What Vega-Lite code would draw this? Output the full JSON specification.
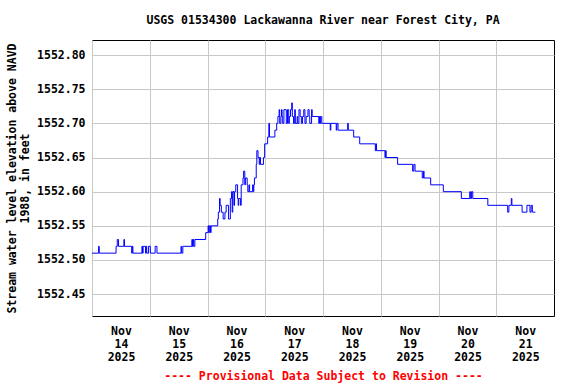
{
  "$schema": "https://vega.github.io/schema/vega-lite/v6.json",
  "width": 462,
  "height": 276,
  "autosize": {"type": "none"},
  "padding": {"left": 92, "top": 40, "right": 22, "bottom": 68},
  "background": "white",
  "title": {
    "text": "USGS 01534300 Lackawanna River near Forest City, PA",
    "font": "DejaVu Sans Mono",
    "fontSize": 11.5,
    "fontWeight": "bold",
    "color": "black",
    "anchor": "middle",
    "offset": 14
  },
  "config": {
    "view": {"stroke": "black", "strokeWidth": 1},
    "axis": {
      "labelFont": "DejaVu Sans Mono",
      "labelFontSize": 11.5,
      "labelFontWeight": "bold",
      "labelColor": "black",
      "titleFont": "DejaVu Sans Mono",
      "titleFontSize": 11.5,
      "titleFontWeight": "bold",
      "titleColor": "black",
      "gridColor": "#c8c8c8",
      "gridWidth": 1,
      "gridOpacity": 1,
      "domain": false,
      "ticks": false
    }
  },
  "data": {
    "values": [
      {"t": "2025-11-14T00:00", "v": 1552.51},
      {"t": "2025-11-14T02:45", "v": 1552.52},
      {"t": "2025-11-14T03:00", "v": 1552.51},
      {"t": "2025-11-14T10:00", "v": 1552.52},
      {"t": "2025-11-14T10:30", "v": 1552.53},
      {"t": "2025-11-14T11:00", "v": 1552.52},
      {"t": "2025-11-14T13:15", "v": 1552.53},
      {"t": "2025-11-14T13:30", "v": 1552.52},
      {"t": "2025-11-14T16:30", "v": 1552.51},
      {"t": "2025-11-14T16:45", "v": 1552.52},
      {"t": "2025-11-14T17:00", "v": 1552.51},
      {"t": "2025-11-14T20:45", "v": 1552.52},
      {"t": "2025-11-14T21:00", "v": 1552.51},
      {"t": "2025-11-14T21:15", "v": 1552.52},
      {"t": "2025-11-14T22:15", "v": 1552.51},
      {"t": "2025-11-14T22:30", "v": 1552.52},
      {"t": "2025-11-14T22:45", "v": 1552.51},
      {"t": "2025-11-14T23:30", "v": 1552.52},
      {"t": "2025-11-15T00:15", "v": 1552.51},
      {"t": "2025-11-15T02:15", "v": 1552.52},
      {"t": "2025-11-15T03:00", "v": 1552.51},
      {"t": "2025-11-15T13:00", "v": 1552.52},
      {"t": "2025-11-15T13:15", "v": 1552.51},
      {"t": "2025-11-15T13:45", "v": 1552.52},
      {"t": "2025-11-15T17:30", "v": 1552.53},
      {"t": "2025-11-15T17:45", "v": 1552.52},
      {"t": "2025-11-15T18:00", "v": 1552.53},
      {"t": "2025-11-15T18:15", "v": 1552.52},
      {"t": "2025-11-15T18:45", "v": 1552.53},
      {"t": "2025-11-15T23:15", "v": 1552.54},
      {"t": "2025-11-16T00:15", "v": 1552.55},
      {"t": "2025-11-16T00:30", "v": 1552.54},
      {"t": "2025-11-16T00:45", "v": 1552.55},
      {"t": "2025-11-16T01:15", "v": 1552.54},
      {"t": "2025-11-16T01:30", "v": 1552.55},
      {"t": "2025-11-16T04:15", "v": 1552.56},
      {"t": "2025-11-16T04:30", "v": 1552.57},
      {"t": "2025-11-16T05:00", "v": 1552.59},
      {"t": "2025-11-16T05:15", "v": 1552.58},
      {"t": "2025-11-16T05:45", "v": 1552.57},
      {"t": "2025-11-16T06:30", "v": 1552.56},
      {"t": "2025-11-16T07:15", "v": 1552.57},
      {"t": "2025-11-16T07:45", "v": 1552.58},
      {"t": "2025-11-16T08:45", "v": 1552.56},
      {"t": "2025-11-16T09:30", "v": 1552.59},
      {"t": "2025-11-16T10:00", "v": 1552.60},
      {"t": "2025-11-16T10:15", "v": 1552.57},
      {"t": "2025-11-16T10:30", "v": 1552.60},
      {"t": "2025-11-16T11:00", "v": 1552.58},
      {"t": "2025-11-16T11:15", "v": 1552.60},
      {"t": "2025-11-16T11:45", "v": 1552.61},
      {"t": "2025-11-16T12:30", "v": 1552.59},
      {"t": "2025-11-16T12:45", "v": 1552.58},
      {"t": "2025-11-16T13:00", "v": 1552.59},
      {"t": "2025-11-16T13:45", "v": 1552.58},
      {"t": "2025-11-16T14:00", "v": 1552.61},
      {"t": "2025-11-16T14:45", "v": 1552.62},
      {"t": "2025-11-16T15:00", "v": 1552.63},
      {"t": "2025-11-16T15:30", "v": 1552.61},
      {"t": "2025-11-16T15:45", "v": 1552.62},
      {"t": "2025-11-16T16:30", "v": 1552.61},
      {"t": "2025-11-16T16:45", "v": 1552.60},
      {"t": "2025-11-16T17:15", "v": 1552.61},
      {"t": "2025-11-16T17:30", "v": 1552.60},
      {"t": "2025-11-16T18:45", "v": 1552.61},
      {"t": "2025-11-16T19:00", "v": 1552.60},
      {"t": "2025-11-16T19:15", "v": 1552.61},
      {"t": "2025-11-16T19:30", "v": 1552.62},
      {"t": "2025-11-16T20:15", "v": 1552.64},
      {"t": "2025-11-16T20:30", "v": 1552.66},
      {"t": "2025-11-16T21:00", "v": 1552.65},
      {"t": "2025-11-16T21:30", "v": 1552.64},
      {"t": "2025-11-16T21:45", "v": 1552.65},
      {"t": "2025-11-16T22:00", "v": 1552.64},
      {"t": "2025-11-16T23:15", "v": 1552.65},
      {"t": "2025-11-16T23:45", "v": 1552.67},
      {"t": "2025-11-17T01:00", "v": 1552.68},
      {"t": "2025-11-17T01:30", "v": 1552.70},
      {"t": "2025-11-17T01:45", "v": 1552.68},
      {"t": "2025-11-17T04:00", "v": 1552.69},
      {"t": "2025-11-17T04:45", "v": 1552.70},
      {"t": "2025-11-17T05:15", "v": 1552.71},
      {"t": "2025-11-17T05:45", "v": 1552.72},
      {"t": "2025-11-17T06:00", "v": 1552.70},
      {"t": "2025-11-17T06:30", "v": 1552.71},
      {"t": "2025-11-17T06:45", "v": 1552.72},
      {"t": "2025-11-17T07:00", "v": 1552.71},
      {"t": "2025-11-17T07:15", "v": 1552.70},
      {"t": "2025-11-17T07:45", "v": 1552.72},
      {"t": "2025-11-17T08:45", "v": 1552.70},
      {"t": "2025-11-17T09:15", "v": 1552.72},
      {"t": "2025-11-17T09:45", "v": 1552.70},
      {"t": "2025-11-17T10:00", "v": 1552.71},
      {"t": "2025-11-17T10:30", "v": 1552.72},
      {"t": "2025-11-17T11:00", "v": 1552.73},
      {"t": "2025-11-17T11:15", "v": 1552.71},
      {"t": "2025-11-17T11:45", "v": 1552.70},
      {"t": "2025-11-17T12:15", "v": 1552.72},
      {"t": "2025-11-17T12:30", "v": 1552.70},
      {"t": "2025-11-17T13:15", "v": 1552.71},
      {"t": "2025-11-17T13:30", "v": 1552.70},
      {"t": "2025-11-17T14:00", "v": 1552.72},
      {"t": "2025-11-17T14:30", "v": 1552.71},
      {"t": "2025-11-17T15:00", "v": 1552.70},
      {"t": "2025-11-17T15:30", "v": 1552.71},
      {"t": "2025-11-17T16:00", "v": 1552.72},
      {"t": "2025-11-17T16:30", "v": 1552.70},
      {"t": "2025-11-17T17:00", "v": 1552.71},
      {"t": "2025-11-17T17:45", "v": 1552.72},
      {"t": "2025-11-17T18:15", "v": 1552.71},
      {"t": "2025-11-17T18:30", "v": 1552.70},
      {"t": "2025-11-17T19:15", "v": 1552.72},
      {"t": "2025-11-17T19:30", "v": 1552.71},
      {"t": "2025-11-17T22:15", "v": 1552.70},
      {"t": "2025-11-17T22:30", "v": 1552.71},
      {"t": "2025-11-17T22:45", "v": 1552.70},
      {"t": "2025-11-17T23:00", "v": 1552.71},
      {"t": "2025-11-17T23:30", "v": 1552.70},
      {"t": "2025-11-18T03:00", "v": 1552.69},
      {"t": "2025-11-18T03:15", "v": 1552.70},
      {"t": "2025-11-18T05:30", "v": 1552.69},
      {"t": "2025-11-18T05:45", "v": 1552.70},
      {"t": "2025-11-18T06:15", "v": 1552.69},
      {"t": "2025-11-18T10:15", "v": 1552.70},
      {"t": "2025-11-18T10:30", "v": 1552.69},
      {"t": "2025-11-18T12:45", "v": 1552.68},
      {"t": "2025-11-18T15:15", "v": 1552.67},
      {"t": "2025-11-18T21:45", "v": 1552.66},
      {"t": "2025-11-18T22:00", "v": 1552.67},
      {"t": "2025-11-18T22:15", "v": 1552.66},
      {"t": "2025-11-19T01:45", "v": 1552.65},
      {"t": "2025-11-19T02:00", "v": 1552.66},
      {"t": "2025-11-19T02:15", "v": 1552.65},
      {"t": "2025-11-19T07:00", "v": 1552.64},
      {"t": "2025-11-19T13:15", "v": 1552.63},
      {"t": "2025-11-19T13:45", "v": 1552.64},
      {"t": "2025-11-19T14:15", "v": 1552.63},
      {"t": "2025-11-19T17:15", "v": 1552.62},
      {"t": "2025-11-19T17:45", "v": 1552.63},
      {"t": "2025-11-19T18:00", "v": 1552.62},
      {"t": "2025-11-19T20:45", "v": 1552.61},
      {"t": "2025-11-20T02:00", "v": 1552.60},
      {"t": "2025-11-20T09:30", "v": 1552.59},
      {"t": "2025-11-20T13:00", "v": 1552.60},
      {"t": "2025-11-20T13:15", "v": 1552.59},
      {"t": "2025-11-20T13:45", "v": 1552.60},
      {"t": "2025-11-20T14:15", "v": 1552.59},
      {"t": "2025-11-20T20:30", "v": 1552.58},
      {"t": "2025-11-21T04:45", "v": 1552.57},
      {"t": "2025-11-21T05:15", "v": 1552.58},
      {"t": "2025-11-21T06:15", "v": 1552.59},
      {"t": "2025-11-21T06:30", "v": 1552.58},
      {"t": "2025-11-21T10:45", "v": 1552.57},
      {"t": "2025-11-21T12:45", "v": 1552.58},
      {"t": "2025-11-21T14:00", "v": 1552.57},
      {"t": "2025-11-21T14:30", "v": 1552.58},
      {"t": "2025-11-21T15:00", "v": 1552.57},
      {"t": "2025-11-21T16:15", "v": 1552.57}
    ]
  },
  "mark": {"type": "line", "interpolate": "step-after", "color": "#0000ff", "strokeWidth": 1, "clip": true},
  "encoding": {
    "x": {
      "field": "t",
      "type": "temporal",
      "scale": {
        "domain": [
          {"year": 2025, "month": 11, "date": 14},
          {"year": 2025, "month": 11, "date": 22}
        ],
        "nice": false
      },
      "axis": {
        "values": [
          {"year": 2025, "month": 11, "date": 14},
          {"year": 2025, "month": 11, "date": 15},
          {"year": 2025, "month": 11, "date": 16},
          {"year": 2025, "month": 11, "date": 17},
          {"year": 2025, "month": 11, "date": 18},
          {"year": 2025, "month": 11, "date": 19},
          {"year": 2025, "month": 11, "date": 20},
          {"year": 2025, "month": 11, "date": 21}
        ],
        "labelExpr": "[timeFormat(datum.value, '%b'), timeFormat(datum.value, '%d'), timeFormat(datum.value, '%Y')]",
        "labelOffset": 29,
        "labelFlush": false,
        "labelOverlap": false,
        "labelBaseline": "top",
        "labelLineHeight": 13,
        "labelPadding": 9,
        "title": "---- Provisional Data Subject to Revision ----",
        "titleColor": "#ff0000",
        "titlePadding": 8
      }
    },
    "y": {
      "field": "v",
      "type": "quantitative",
      "scale": {"domain": [1552.418, 1552.822], "nice": false, "zero": false},
      "axis": {
        "values": [1552.45, 1552.5, 1552.55, 1552.6, 1552.65, 1552.7, 1552.75, 1552.8],
        "format": ".2f",
        "labelPadding": 7,
        "title": ["Stream water level elevation above NAVD", "1988, in feet"],
        "titlePadding": 6,
        "titleLineHeight": 13
      }
    }
  }
}
